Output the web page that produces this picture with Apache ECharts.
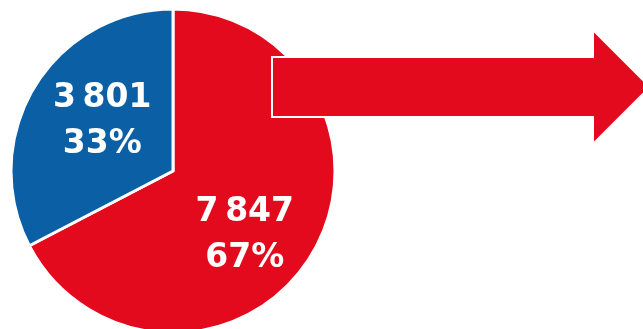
<!DOCTYPE html>
<html>
	<head>
		<meta charset="utf-8">
		<title>pie</title>
		<script type="text/javascript" src="https://cdn.jsdelivr.net/npm/echarts@6/dist/echarts.min.js"></script>
		<style>
			html, body { margin: 0; padding: 0; background: #FFFFFF; }
		</style>
	</head>
	<body>
		<div id="chart" style="width: 643px;height:329px;"></div>
		<script type="text/javascript">
			// 数据
			var names = ['red', 'blue'];
			var values = [7847, 3801];
			var colors = ['#E20A1C', '#0B5FA5'];
			// 标签微调
			var labelShift = [[0, 21], [1, -6]];

			function fmt(n) {
				return String(n).replace(/\B(?=(\d{3})+(?!\d))/g, '\u2009');
			}

			var pieData = [];
			for (var i = 0; i < values.length; i++) {
				pieData.push({
					name: names[i],
					value: values[i],
					itemStyle: { color: colors[i] }
				});
			}

			var option = {
				animation: false,
				graphic: [{
					type: 'polygon',
					z: 10,
					shape: {
						points: [[272, 57], [593, 57], [593, 30], [650, 87], [593, 144], [593, 117], [272, 117]]
					},
					style: {
						fill: '#E20A1C',
						stroke: '#FFFFFF',
						lineWidth: 2
					}
				}],
				series: [{
					type: 'pie',
					center: [173, 171],
					radius: [0, 162],
					startAngle: 90,
					clockwise: true,
					percentPrecision: 0,
					itemStyle: {
						borderColor: '#FFFFFF',
						borderWidth: 3
					},
					label: {
						show: true,
						position: 'inside',
						formatter: function(p) {
							return fmt(p.value) + '\n' + p.percent + '%';
						},
						color: '#FFFFFF',
						fontFamily: 'DejaVu Sans',
						fontWeight: 'bold',
						fontSize: 33,
						lineHeight: 46
					},
					labelLine: { show: false },
					labelLayout: function(p) {
						return { dx: labelShift[p.dataIndex][0], dy: labelShift[p.dataIndex][1] };
					},
					emphasis: { disabled: true },
					data: pieData
				}]
			};

			var myChart = echarts.init(document.getElementById('chart'));
			myChart.setOption(option);
		</script>
	</body>
</html>
